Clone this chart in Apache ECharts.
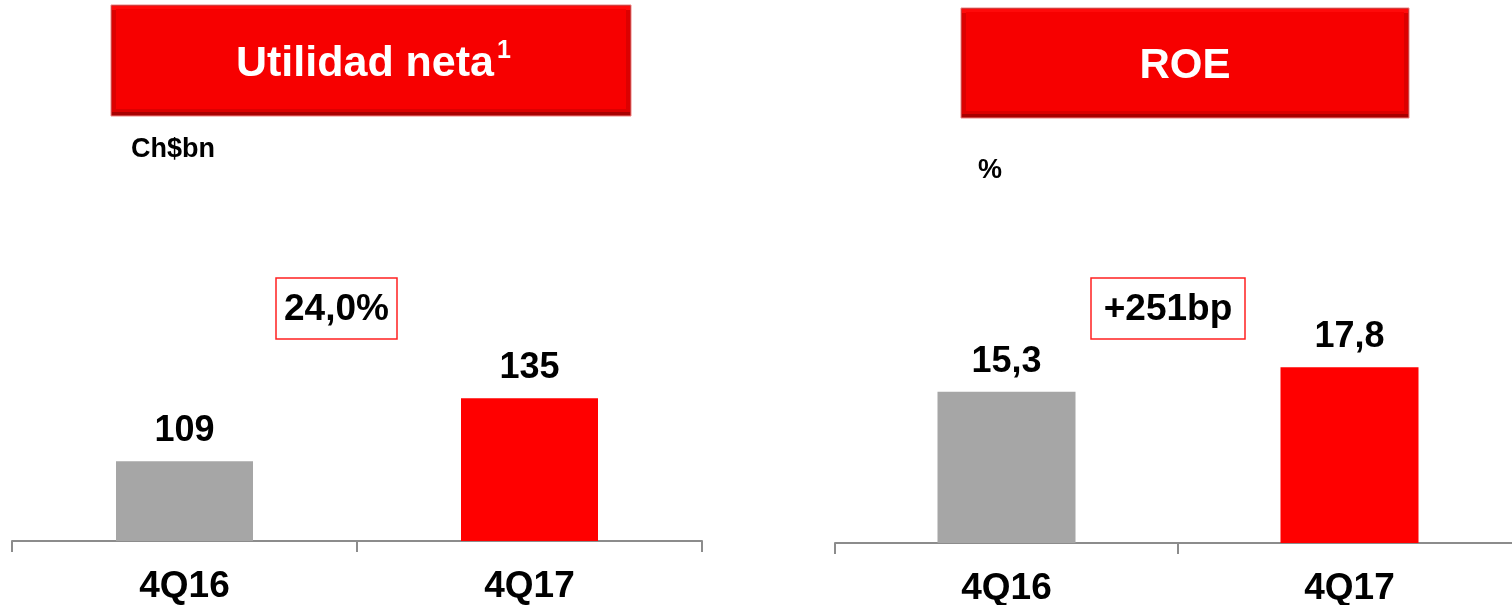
<!DOCTYPE html>
<html>
<head>
<meta charset="utf-8">
<script src="https://cdn.jsdelivr.net/npm/echarts@6/dist/echarts.min.js"></script>
<style>
html,body{margin:0;padding:0;background:#fff;}
#chart{width:1512px;height:605px;}
</style>
</head>
<body>
<div id="chart"></div>
<script>
var categories = ['4Q16', '4Q17'];
var netIncome = [109, 135];
var roe = [15.3, 17.8];
var barColors = ['#a6a6a6', '#ff0000'];
var leftTitle = 'Utilidad neta';
var leftSup = '1';
var rightTitle = 'ROE';
var leftUnit = 'Ch$bn';
var rightUnit = '%';
var leftChange = '24,0%';
var rightChange = '+251bp';

var FONT = '"Liberation Sans", Arial, sans-serif';
var chart = echarts.init(document.getElementById('chart'));

function titleBox(x, y, w, h) {
  return [
    { type: 'rect', shape: { x: x, y: y, width: w, height: h }, style: { fill: '#a80000', stroke: '#f48080', lineWidth: 1 }, z: 10 },
    { type: 'rect', shape: { x: x + 1, y: y + 1, width: w - 2, height: h - 5 }, style: { fill: '#dc0000' }, z: 11 },
    { type: 'rect', shape: { x: x + 1, y: y + 1, width: w - 2, height: 4 }, style: { fill: '#ff0a0a' }, z: 11 },
    { type: 'rect', shape: { x: x + 5, y: y + 4, width: w - 10, height: h - 11 }, style: { fill: '#f70000' }, z: 12 }
  ];
}

function changeBox(x, y, w, h, txt) {
  return [
    { type: 'rect', shape: { x: x, y: y, width: w, height: h }, style: { fill: '#fff', stroke: '#ff2020', lineWidth: 1.5 }, z: 10 },
    { type: 'text', x: x + w / 2, y: y + h / 2 + 1, style: { text: txt, font: 'bold 37px ' + FONT, fill: '#000', align: 'center', verticalAlign: 'middle' }, z: 11 }
  ];
}

function mkData(vals) {
  return vals.map(function (v, i) { return { value: v, itemStyle: { color: barColors[i] } }; });
}

var axisCommon = {
  type: 'category',
  boundaryGap: true,
  axisLine: { lineStyle: { color: '#8c8c8c', width: 2 } },
  axisTick: { show: true, length: 11, lineStyle: { color: '#8c8c8c', width: 2 } },
  axisLabel: { color: '#000', fontSize: 37, fontWeight: 'bold', fontFamily: FONT, margin: 27 }
};

var graphics = []
  .concat(titleBox(111, 5, 520, 111))
  .concat(titleBox(961, 8, 448, 110))
  .concat([
    { type: 'text', x: 236, y: 64, style: { text: leftTitle, font: 'bold 43px ' + FONT, fill: '#fff', align: 'left', verticalAlign: 'middle' }, z: 20 },
    { type: 'text', x: 497, y: 51, style: { text: leftSup, font: 'bold 25px ' + FONT, fill: '#fff', align: 'left', verticalAlign: 'middle' }, z: 20 },
    { type: 'text', x: 1185, y: 66, style: { text: rightTitle, font: 'bold 42px ' + FONT, fill: '#fff', align: 'center', verticalAlign: 'middle' }, z: 20 },
    { type: 'text', x: 131, y: 150, style: { text: leftUnit, font: 'bold 27px ' + FONT, fill: '#000', align: 'left', verticalAlign: 'middle' }, z: 20 },
    { type: 'text', x: 978, y: 171, style: { text: rightUnit, font: 'bold 27px ' + FONT, fill: '#000', align: 'left', verticalAlign: 'middle' }, z: 20 }
  ])
  .concat(changeBox(276, 278, 121, 61, leftChange))
  .concat(changeBox(1091, 278, 154, 61, rightChange));

var option = {
  animation: false,
  backgroundColor: '#fff',
  grid: [
    { left: 12, top: 299, width: 690, height: 242, outerBoundsMode: 'none', containLabel: false },
    { left: 835, top: 296, width: 686, height: 247, outerBoundsMode: 'none', containLabel: false }
  ],
  xAxis: [
    Object.assign({ gridIndex: 0, data: categories }, axisCommon),
    Object.assign({ gridIndex: 1, data: categories }, axisCommon)
  ],
  yAxis: [
    { gridIndex: 0, type: 'value', min: 76, max: 176, show: false },
    { gridIndex: 1, type: 'value', min: 0, max: 25, show: false }
  ],
  series: [
    {
      type: 'bar', xAxisIndex: 0, yAxisIndex: 0, barWidth: 137,
      data: mkData(netIncome),
      label: { show: true, position: 'top', distance: 12, color: '#000', fontSize: 36, fontWeight: 'bold', fontFamily: FONT }
    },
    {
      type: 'bar', xAxisIndex: 1, yAxisIndex: 1, barWidth: 138,
      data: mkData(roe),
      label: {
        show: true, position: 'top', distance: 12, color: '#000', fontSize: 36, fontWeight: 'bold', fontFamily: FONT,
        formatter: function (p) { return p.value.toFixed(1).replace('.', ','); }
      }
    }
  ],
  graphic: graphics
};
chart.setOption(option);
</script>
</body>
</html>
